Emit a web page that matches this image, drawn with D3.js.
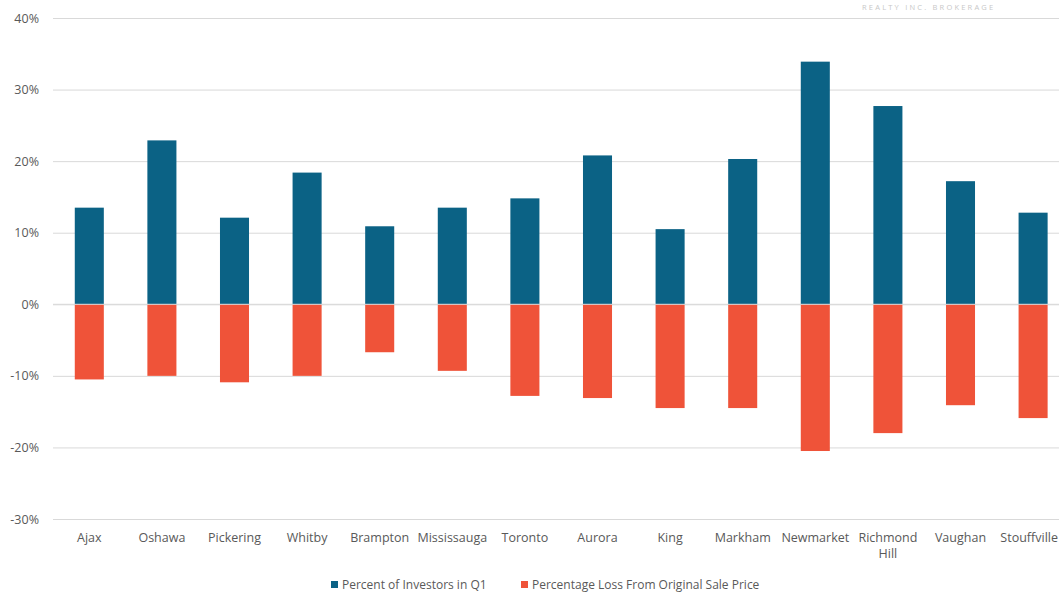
<!DOCTYPE html>
<html>
<head>
<meta charset="utf-8">
<script src="https://cdn.jsdelivr.net/npm/d3@7"></script>
<style>
  html, body { margin: 0; padding: 0; background: #fff; }
  svg { display: block; }
  text { font-family: "Open Sans", "Noto Sans", sans-serif; fill: #595959; }
</style>
</head>
<body>
<svg id="chart" width="1059" height="595"></svg>
<script>
// Municipalities along the x axis
const categories = ["Ajax", "Oshawa", "Pickering", "Whitby", "Brampton", "Mississauga", "Toronto",
  "Aurora", "King", "Markham", "Newmarket", "Richmond Hill", "Vaughan", "Stouffville"];
// Share of buyers who were investors in Q1 (%)
const investorShare = [13.5, 22.9, 12.1, 18.4, 10.9, 13.5, 14.8, 20.8, 10.5, 20.3, 33.9, 27.7, 17.2, 12.8];
// Loss relative to the original sale price (%)
const priceLoss = [-10.5, -10.0, -10.9, -10.0, -6.7, -9.3, -12.8, -13.1, -14.5, -14.5, -20.5, -18.0, -14.1, -15.9];
const yTicks = [-30, -20, -10, 0, 10, 20, 30, 40];
const seriesNames = ["Percent of Investors in Q1", "Percentage Loss From Original Sale Price"];
const colors = ["#0b6285", "#ef5339"];

const W = 1059;
const svg = d3.select("#chart");
const plotLeft = 53, plotTop = 18, plotBottom = 519;
const step = 72.6;

const x = d3.scaleBand()
  .domain(categories)
  .range([plotLeft, plotLeft + step * categories.length])
  .paddingInner(0.6)
  .paddingOuter(0.3);

const y = d3.scaleLinear().domain([-30, 40]).range([plotBottom, plotTop]);

// Horizontal gridlines with percentage labels
const yAxis = d3.axisLeft(y)
  .tickValues(yTicks)
  .tickSize(-(W - plotLeft))
  .tickFormat(d => d + "%");

const gy = svg.append("g").attr("transform", `translate(${plotLeft},0)`).call(yAxis);
gy.select(".domain").remove();
gy.selectAll(".tick line").attr("stroke", "#d9d9d9").attr("stroke-width", 1);
gy.selectAll(".tick text")
  .attr("x", -14)
  .attr("font-size", 12.5)
  .style("fill", "#595959");

// Faint brokerage watermark near the top edge
svg.append("text")
  .attr("x", 862).attr("y", 10)
  .attr("font-size", 7.5)
  .attr("letter-spacing", 2.2)
  .style("fill", "#c8c8c8")
  .text("REALTY INC. BROKERAGE");

// Bars
const barG = svg.append("g");
barG.selectAll("rect.inv")
  .data(categories)
  .join("rect")
  .attr("class", "inv")
  .attr("x", d => x(d))
  .attr("width", x.bandwidth())
  .attr("y", (d, i) => y(investorShare[i]))
  .attr("height", (d, i) => y(0) - y(investorShare[i]))
  .attr("fill", colors[0]);

barG.selectAll("rect.loss")
  .data(categories)
  .join("rect")
  .attr("class", "loss")
  .attr("x", d => x(d))
  .attr("width", x.bandwidth())
  .attr("y", y(0))
  .attr("height", (d, i) => y(priceLoss[i]) - y(0))
  .attr("fill", colors[1]);

// Zero line over the bars
svg.append("line")
  .attr("x1", plotLeft).attr("x2", W)
  .attr("y1", y(0)).attr("y2", y(0))
  .attr("stroke", "#d9d9d9").attr("stroke-width", 1);

// Category labels ("Richmond Hill" wraps onto two lines); keep labels inside the canvas
const xAxisG = svg.append("g");
categories.forEach(c => {
  let cx = x(c) + x.bandwidth() / 2;
  const lines = c === "Richmond Hill" ? ["Richmond", "Hill"] : [c];
  const t = xAxisG.append("text")
    .attr("text-anchor", "middle")
    .attr("font-size", 12.5)
    .attr("y", 542);
  lines.forEach((ln, k) => {
    t.append("tspan").attr("dy", k === 0 ? 0 : 16).text(ln);
  });
  const half = t.node().getBBox().width / 2;
  if (cx + half > W - 1) cx = W - 1 - half;
  t.attr("x", cx).selectAll("tspan").attr("x", cx);
});

// Legend
const legend = svg.append("g");
const legendItems = [
  { name: seriesNames[0], color: colors[0], x: 331 },
  { name: seriesNames[1], color: colors[1], x: 521 }
];
legendItems.forEach(it => {
  legend.append("rect")
    .attr("x", it.x).attr("y", 581)
    .attr("width", 7).attr("height", 7)
    .attr("fill", it.color);
  legend.append("text")
    .attr("x", it.x + 11).attr("y", 589)
    .attr("font-size", 12)
    .text(it.name);
});
</script>
</body>
</html>
